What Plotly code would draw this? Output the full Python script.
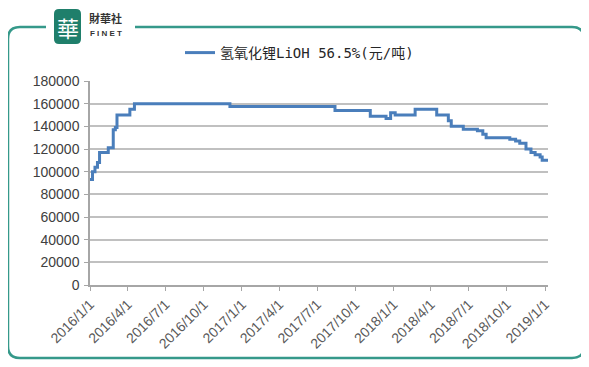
import plotly.graph_objects as go

# ---- data ----
dates = ["2016-01-01", "2016-01-07", "2016-01-13", "2016-01-19", "2016-01-24", "2016-02-14",
         "2016-02-26", "2016-03-02", "2016-03-06", "2016-04-06", "2016-04-17", "2016-12-03",
         "2017-08-13", "2017-11-06", "2017-12-14", "2017-12-25", "2018-01-05", "2018-02-22",
         "2018-04-15", "2018-05-13", "2018-05-20", "2018-06-18", "2018-07-22", "2018-08-04",
         "2018-08-12", "2018-10-08", "2018-10-22", "2018-11-01", "2018-11-16", "2018-11-28",
         "2018-12-08", "2018-12-20", "2018-12-25", "2019-01-08"]
values = [93000, 100000, 104000, 108000, 117000, 121000,
          137000, 139000, 150000, 155000, 160000, 157500,
          154000, 149000, 147000, 152000, 150000, 155000,
          150000, 145000, 140000, 137500, 136000, 133000,
          130000, 128500, 127000, 125000, 120000, 117000,
          115000, 113000, 110000, 110000]
series_name = "氢氧化锂LiOH 56.5%(元/吨)"
tick_dates = ["2016-01-01", "2016-04-01", "2016-07-01", "2016-10-01", "2017-01-01", "2017-04-01",
              "2017-07-01", "2017-10-01", "2018-01-01", "2018-04-01", "2018-07-01", "2018-10-01",
              "2019-01-01"]
tick_labels = ["2016/1/1", "2016/4/1", "2016/7/1", "2016/10/1", "2017/1/1", "2017/4/1",
               "2017/7/1", "2017/10/1", "2018/1/1", "2018/4/1", "2018/7/1", "2018/10/1",
               "2019/1/1"]
y_ticks = list(range(0, 180001, 20000))
y_labels = [str(v) for v in y_ticks]

OFF = 8  # page body margin
W, H = 589, 367
L, R, T, B = 90, 548, 81, 285
FW, FH = W - OFF, H - OFF


def px(x):
    return (x - L) / (R - L)


def py(y):
    return (B - y) / (B - T)


fig = go.Figure()
fig.add_trace(go.Scatter(
    x=dates, y=values, mode="lines", line_shape="hv", name=series_name,
    line=dict(color="#4a7ebb", width=3)))

# rounded frame
x0, y0, x1, y1, r = 8, 27, 584, 358, 12
def P(x, y):
    return f"{px(x):.5f},{py(y):.5f}"
frame = (f"M {P(x0 + r, y0)} L {P(x1 - r, y0)} Q {P(x1, y0)} {P(x1, y0 + r)} "
         f"L {P(x1, y1 - r)} Q {P(x1, y1)} {P(x1 - r, y1)} L {P(x0 + r, y1)} "
         f"Q {P(x0, y1)} {P(x0, y1 - r)} L {P(x0, y0 + r)} Q {P(x0, y0)} {P(x0 + r, y0)} Z")
shapes = [
    dict(type="path", xref="paper", yref="paper", path=frame,
         line=dict(color="#35998a", width=2.5), layer="below"),
    dict(type="rect", xref="paper", yref="paper", x0=px(46), x1=px(135), y0=py(20), y1=py(34),
         fillcolor="white", line=dict(width=0), layer="below"),
]
# logo square
lx0, ly0, lx1, ly1, lr = 54, 9, 81, 44, 5
logo = (f"M {P(lx0 + lr, ly0)} L {P(lx1 - lr, ly0)} Q {P(lx1, ly0)} {P(lx1, ly0 + lr)} "
        f"L {P(lx1, ly1 - lr)} Q {P(lx1, ly1)} {P(lx1 - lr, ly1)} L {P(lx0 + lr, ly1)} "
        f"Q {P(lx0, ly1)} {P(lx0, ly1 - lr)} L {P(lx0, ly0 + lr)} Q {P(lx0, ly0)} {P(lx0 + lr, ly0)} Z")
shapes.append(dict(type="path", xref="paper", yref="paper", path=logo,
                   fillcolor="#1f7f6b", line=dict(width=0), layer="below"))

annotations = [
    dict(xref="paper", yref="paper", x=px(67.5), y=py(26.5), text="華", showarrow=False,
         xanchor="center", yanchor="middle",
         font=dict(family="Noto Sans CJK TC", size=22, color="white")),
    dict(xref="paper", yref="paper", x=px(88), y=py(27), xanchor="left", yanchor="bottom",
         text="<b>財華社</b>", showarrow=False, borderpad=0,
         font=dict(family="Noto Sans CJK TC", size=11, color="#333333")),
    dict(xref="paper", yref="paper", x=px(89), y=py(27.5), xanchor="left", yanchor="top",
         text="<b>F I N E T</b>", showarrow=False, borderpad=0,
         font=dict(family="Liberation Sans", size=8, color="#333333")),
]

fig.update_layout(
    width=FW, height=FH, autosize=False,
    margin=dict(l=L - OFF, r=FW - (R - OFF), t=T - OFF, b=FH - (B - OFF), autoexpand=False),
    paper_bgcolor="white", plot_bgcolor="white",
    showlegend=True,
    legend=dict(orientation="h", x=px(180), xanchor="left", y=py(53), yanchor="middle",
                font=dict(family="DejaVu Sans Mono, Noto Sans CJK SC", size=14, color="#262626"),
                bgcolor="rgba(0,0,0,0)"),
    shapes=shapes, annotations=annotations,
    xaxis=dict(type="date", range=["2016-01-01", "2019-01-08"], tickvals=tick_dates,
               ticktext=tick_labels, tickangle=-45, showgrid=False, automargin=False,
               showline=True, linecolor="#a6a6a6", linewidth=1.5,
               ticks="outside", ticklen=4, tickcolor="#a6a6a6",
               tickfont=dict(family="Liberation Sans", size=14, color="#595959")),
    yaxis=dict(range=[0, 180000], tickvals=y_ticks, ticktext=y_labels, showgrid=True,
               gridcolor="#c0c0c0", automargin=False, ticklabelstandoff=2,
               gridwidth=1.5, zeroline=False, showline=True, linecolor="#a6a6a6", linewidth=1.5,
               ticks="outside", ticklen=4, tickcolor="#a6a6a6",
               tickfont=dict(family="Liberation Sans", size=14, color="#404040")),
)

fig.write_html("out.html")
